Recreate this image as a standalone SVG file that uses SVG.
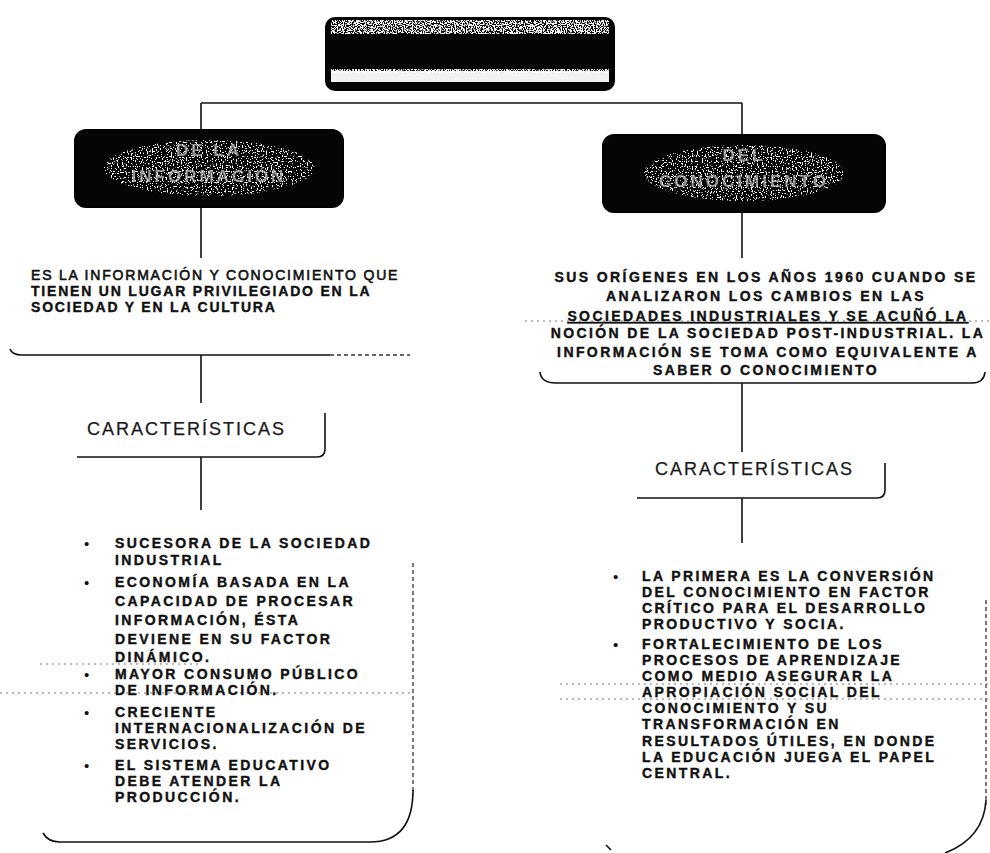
<svg xmlns="http://www.w3.org/2000/svg" width="990" height="853" viewBox="0 0 990 853">
<style>
.body{font-family:"Liberation Sans",Arial,sans-serif;font-size:14px;font-weight:bold;fill:#111;stroke:#111;stroke-width:.4;letter-spacing:2.4px}
.lt{letter-spacing:1.8px}
.car{font-family:"Liberation Sans",Arial,sans-serif;font-size:18px;fill:#1a1a1a;stroke:#1a1a1a;stroke-width:.25;letter-spacing:2px}
.dark{fill:#050505;stroke:#000;stroke-width:2}
.dtext{font-family:"Liberation Sans",Arial,sans-serif;font-size:17px;font-weight:bold;fill:#d0d0d0;letter-spacing:3px;text-anchor:middle;opacity:.7}
.edge{fill:none;stroke:#111;stroke-width:1.6}
.dash{fill:none;stroke:#333;stroke-width:1.3;stroke-dasharray:4 3}
.noise{fill:none;stroke:#777;stroke-width:1;stroke-dasharray:2 4}
.conn{fill:none;stroke:#111;stroke-width:1.6}
.bul{font-family:"Liberation Sans",Arial,sans-serif;font-size:15px;fill:#111}
</style>
<defs>
<filter id="speckle" x="0" y="0" width="100%" height="100%">
<feTurbulence type="fractalNoise" baseFrequency="0.9" numOctaves="1" seed="4" result="n"/>
<feColorMatrix in="n" type="matrix" values="0 0 0 0 1 0 0 0 0 1 0 0 0 0 1 0 0 0 -14 7.6" result="w"/>
<feComposite in="w" in2="SourceGraphic" operator="in"/>
</filter>
<filter id="sparse" x="0" y="0" width="100%" height="100%">
<feTurbulence type="fractalNoise" baseFrequency="0.8" numOctaves="1" seed="9" result="n"/>
<feColorMatrix in="n" type="matrix" values="0 0 0 0 1 0 0 0 0 1 0 0 0 0 1 0 0 0 -25 10.5" result="w"/>
<feComposite in="w" in2="SourceGraphic" operator="in"/>
</filter>
</defs>
<rect width="990" height="853" fill="#fff"/>

<g id="connectors">
<path class="conn" d="M201 103 H742"/>
<path class="conn" d="M201 103 V130 M201 207 V258 M201 355 V403 M201 457 V510"/>
<path class="conn" d="M742 103 V135 M742 212 V258 M742 383 V452 M742 498 V543"/>
</g>

<g id="title">
<rect class="dark" x="326" y="18" width="288" height="72" rx="9"/>
<rect x="331" y="20" width="278" height="14" fill="#fff" filter="url(#speckle)"/>
<rect x="331" y="71" width="278" height="11" fill="#f2f2f2"/>
<rect x="331" y="69" width="278" height="4" fill="#fff" filter="url(#speckle)"/>
</g>

<g id="node-informacion">
<rect class="dark" x="75" y="130" width="268" height="77" rx="11"/>
<ellipse cx="209" cy="168" rx="105" ry="28" fill="#fff" filter="url(#sparse)"/>
<text class="dtext" x="209" y="156">DE LA</text>
<text class="dtext" x="209" y="182">INFORMACIÓN</text>
</g>

<g id="node-conocimiento">
<rect class="dark" x="603" y="135" width="282" height="77" rx="11"/>
<ellipse cx="744" cy="173" rx="100" ry="28" fill="#fff" filter="url(#sparse)"/>
<text class="dtext" x="744" y="161">DEL</text>
<text class="dtext" x="744" y="187">CONOCIMIENTO</text>
</g>

<g id="text-informacion">
<path class="edge" d="M10 349 Q12 355 22 355 H330"/>
<path class="dash" d="M330 355 H410"/>
<text class="body lt" x="31" y="280" style="font-weight:normal;stroke-width:.6">ES LA INFORMACIÓN Y CONOCIMIENTO QUE</text>
<text class="body lt" x="31" y="296">TIENEN UN LUGAR PRIVILEGIADO EN LA</text>
<text class="body lt" x="31" y="312">SOCIEDAD Y EN LA CULTURA</text>
</g>

<g id="text-conocimiento">
<path class="noise" d="M525 321 H990"/>
<path class="edge" d="M540 372 Q541 383 556 383 H972 Q984 383 985 372"/>
<g style="text-anchor:middle">
<text class="body" x="766" y="282">SUS ORÍGENES EN LOS AÑOS 1960 CUANDO SE</text>
<text class="body" x="766" y="301">ANALIZARON LOS CAMBIOS EN LAS</text>
<text class="body" x="768" y="321" text-decoration="underline">SOCIEDADES INDUSTRIALES Y SE ACUÑÓ LA</text>
<text class="body" x="768" y="338">NOCIÓN DE LA SOCIEDAD POST-INDUSTRIAL. LA</text>
<text class="body" x="768" y="357">INFORMACIÓN SE TOMA COMO EQUIVALENTE A</text>
<text class="body" x="766" y="375">SABER O CONOCIMIENTO</text>
</g>
</g>

<g id="carac-left">
<path class="edge" d="M77 457 H317 Q325 457 325 449 V413"/>
<text class="car" x="87" y="435">CARACTERÍSTICAS</text>
</g>

<g id="carac-right">
<path class="edge" d="M637 498 H877 Q885 498 885 490 V463"/>
<text class="car" x="655" y="475">CARACTERÍSTICAS</text>
</g>

<g id="list-left">
<path class="dash" d="M413 563 V795"/>
<path class="edge" d="M413 790 Q413 842 370 842 H60 Q48 842 43 833"/>
<path class="noise" d="M40 664 H200 M0 693 H413"/>
<g class="bul"><text x="84" y="549">•</text><text x="84" y="588">•</text><text x="84" y="680">•</text><text x="84" y="718">•</text><text x="84" y="771">•</text></g>
<text class="body" x="115" y="548">SUCESORA DE LA SOCIEDAD</text>
<text class="body" x="115" y="565">INDUSTRIAL</text>
<text class="body" x="115" y="587">ECONOMÍA BASADA EN LA</text>
<text class="body" x="115" y="606">CAPACIDAD DE PROCESAR</text>
<text class="body" x="115" y="625">INFORMACIÓN, ÉSTA</text>
<text class="body" x="115" y="644">DEVIENE EN SU FACTOR</text>
<text class="body" x="115" y="662">DINÁMICO.</text>
<text class="body" x="115" y="679">MAYOR CONSUMO PÚBLICO</text>
<text class="body" x="115" y="695">DE INFORMACIÓN.</text>
<text class="body" x="115" y="717">CRECIENTE</text>
<text class="body" x="115" y="733">INTERNACIONALIZACIÓN DE</text>
<text class="body" x="115" y="749">SERVICIOS.</text>
<text class="body" x="115" y="770">EL SISTEMA EDUCATIVO</text>
<text class="body" x="115" y="786">DEBE ATENDER LA</text>
<text class="body" x="115" y="802">PRODUCCIÓN.</text>
</g>

<g id="list-right">
<path class="dash" d="M986 600 V805"/>
<path class="edge" d="M986 800 Q984 838 945 853"/>
<path class="edge" d="M606 845 L611 850"/>
<path class="noise" d="M560 684 H990 M560 699 H990"/>
<g class="bul"><text x="613" y="582">•</text><text x="613" y="650">•</text></g>
<text class="body" x="642" y="581">LA PRIMERA ES LA CONVERSIÓN</text>
<text class="body" x="642" y="597">DEL CONOCIMIENTO  EN FACTOR</text>
<text class="body" x="642" y="613">CRÍTICO PARA EL DESARROLLO</text>
<text class="body" x="642" y="629">PRODUCTIVO Y SOCIA.</text>
<text class="body" x="642" y="649">FORTALECIMIENTO DE LOS</text>
<text class="body" x="642" y="665">PROCESOS DE APRENDIZAJE</text>
<text class="body" x="642" y="681">COMO MEDIO ASEGURAR LA</text>
<text class="body" x="642" y="697">APROPIACIÓN SOCIAL DEL</text>
<text class="body" x="642" y="713">CONOCIMIENTO Y SU</text>
<text class="body" x="642" y="729">TRANSFORMACIÓN EN</text>
<text class="body" x="642" y="746">RESULTADOS ÚTILES, EN DONDE</text>
<text class="body" x="642" y="762">LA EDUCACIÓN JUEGA EL PAPEL</text>
<text class="body" x="642" y="778">CENTRAL.</text>
</g>
</svg>
